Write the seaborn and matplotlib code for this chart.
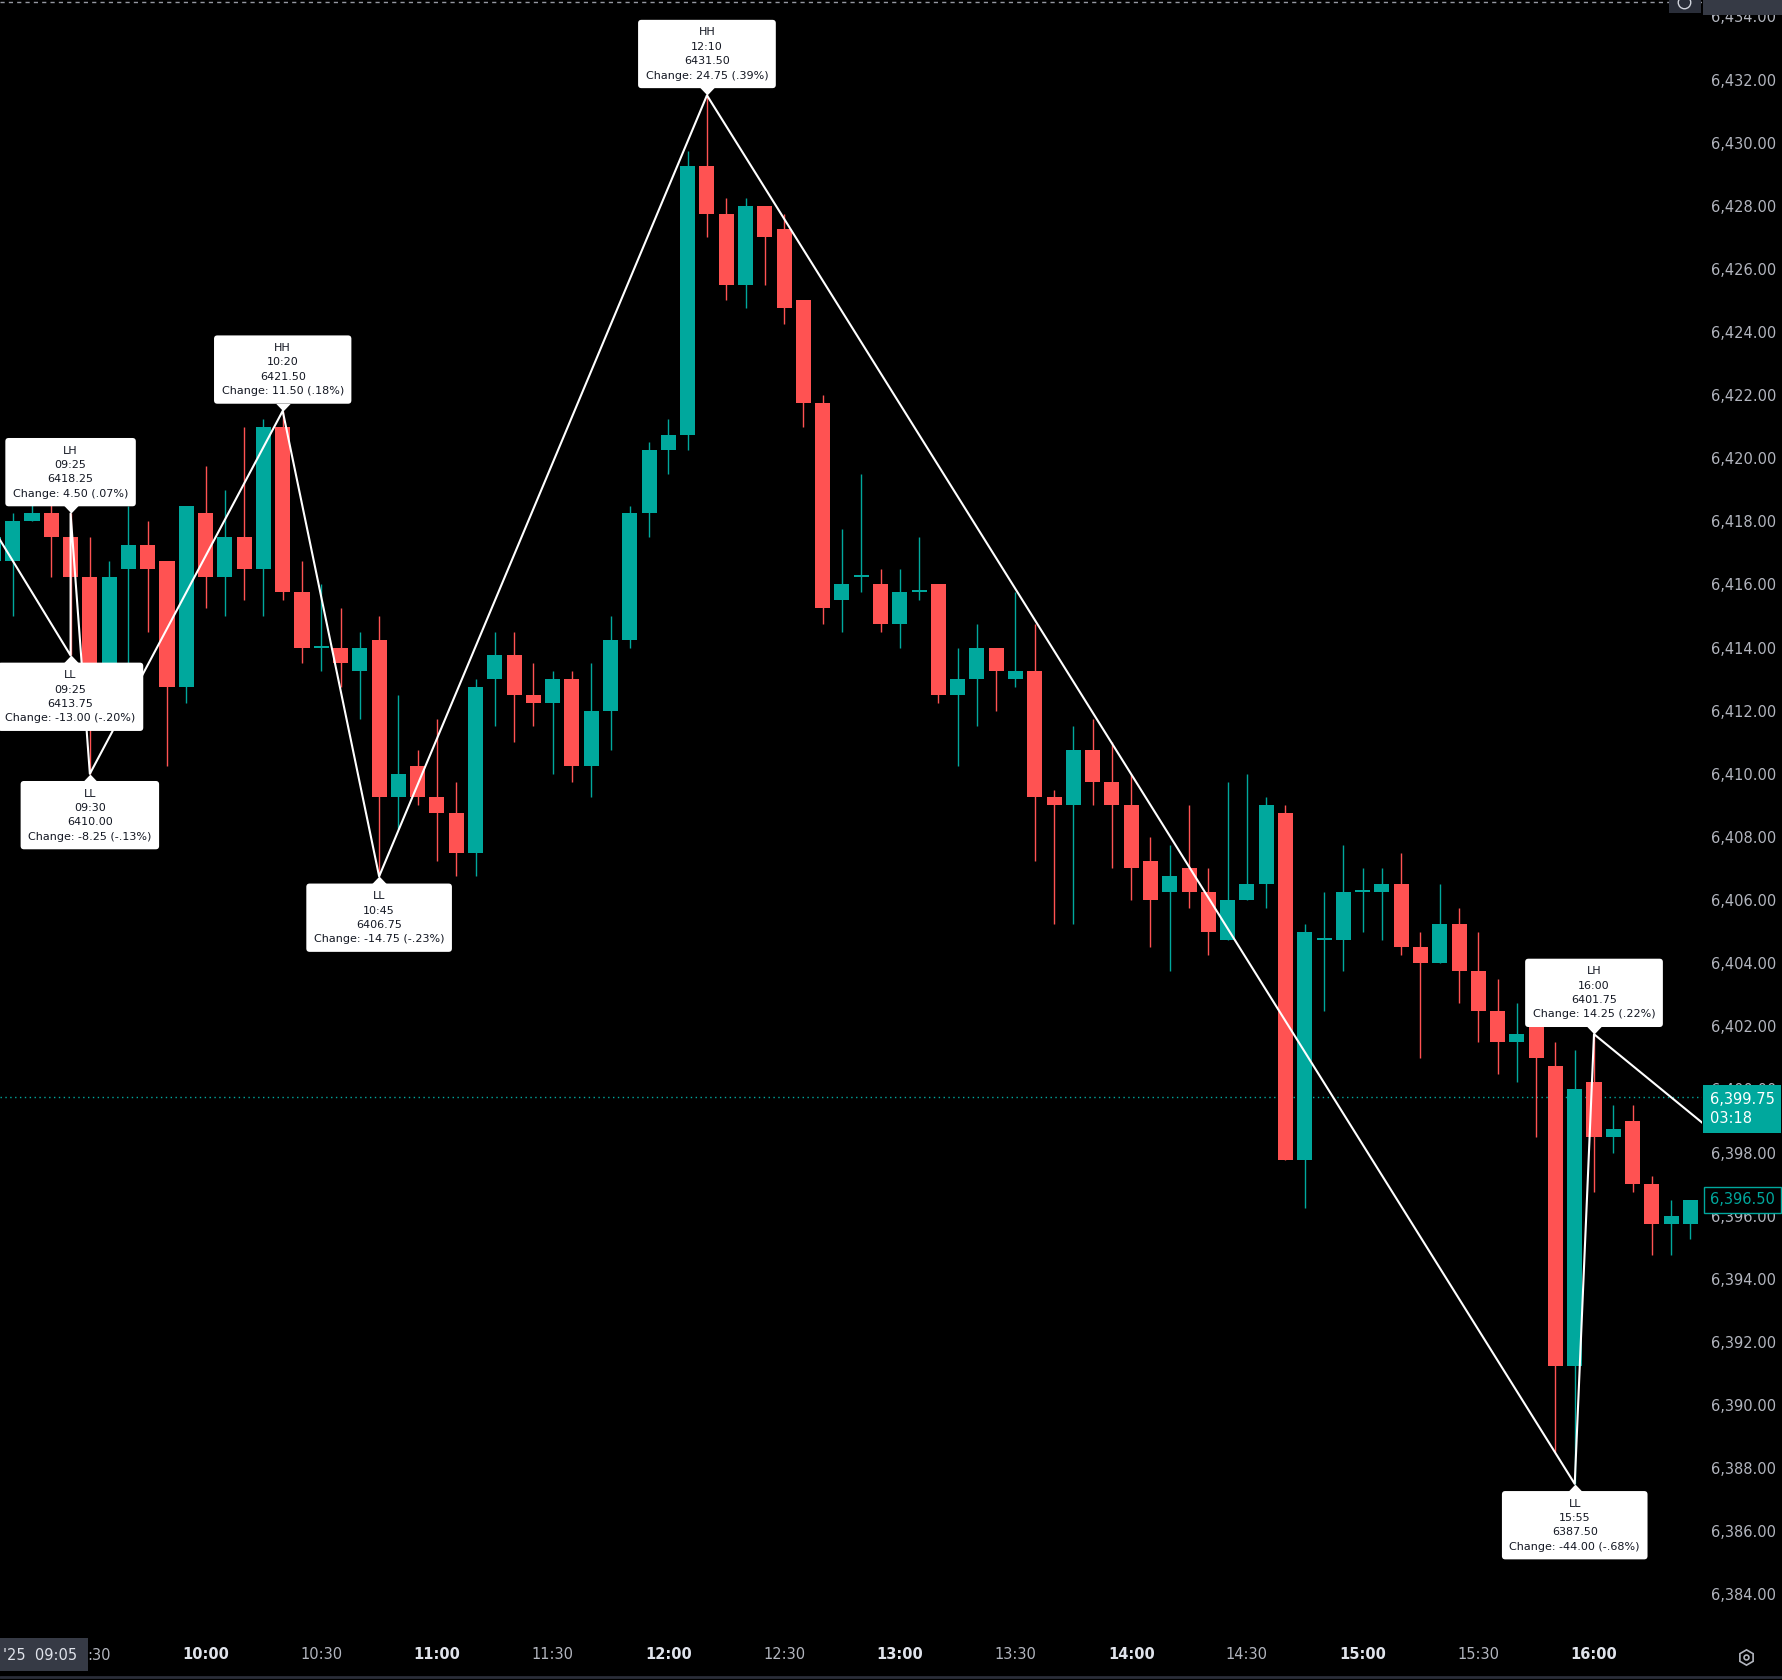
import numpy as np
import pandas as pd
import matplotlib
matplotlib.use('Agg')
from matplotlib import pyplot as plt
from matplotlib.patches import Rectangle
from matplotlib.lines import Line2D
from matplotlib import transforms
import seaborn as sns

# 5 minute bars, 09:05 - 16:25
bar_times = pd.date_range('2025-08-01 09:05', '2025-08-01 16:25', freq='5min').strftime('%H:%M').tolist()

opens = [6416.75, 6416.75, 6418.00, 6418.25, 6417.50, 6416.25, 6413.00, 6416.50, 6417.25, 6416.75,
         6412.75, 6418.25, 6416.25, 6417.50, 6416.50, 6421.00, 6415.75, 6414.00, 6414.00, 6413.25,
         6414.25, 6409.25, 6410.25, 6409.25, 6408.75, 6407.50, 6413.00, 6413.75, 6412.50, 6412.25,
         6413.00, 6410.25, 6412.00, 6414.25, 6418.25, 6420.25, 6420.75, 6429.25, 6427.75, 6425.50,
         6428.00, 6427.25, 6425.00, 6421.75, 6415.50, 6416.25, 6416.00, 6414.75, 6415.75, 6416.00,
         6412.50, 6413.00, 6414.00, 6413.00, 6413.25, 6409.25, 6409.00, 6410.75, 6409.75, 6409.00,
         6407.25, 6406.25, 6407.00, 6406.25, 6404.75, 6406.00, 6406.50, 6408.75, 6397.75, 6404.75,
         6404.75, 6406.25, 6406.25, 6406.50, 6404.50, 6404.00, 6405.25, 6403.75, 6402.50, 6401.50,
         6402.00, 6400.75, 6391.25, 6400.25, 6398.50, 6399.00, 6397.00, 6395.75, 6395.75]
highs = [6418.00, 6418.25, 6418.75, 6418.75, 6418.25, 6417.50, 6416.75, 6418.50, 6418.00, 6416.75,
         6418.50, 6419.75, 6419.00, 6421.00, 6421.25, 6421.50, 6416.75, 6416.00, 6415.25, 6414.50,
         6415.00, 6412.50, 6410.75, 6411.75, 6409.75, 6413.00, 6414.50, 6414.50, 6413.50, 6413.25,
         6413.25, 6413.50, 6415.00, 6418.50, 6420.50, 6421.25, 6429.75, 6431.50, 6428.25, 6428.25,
         6428.00, 6427.75, 6425.00, 6422.00, 6417.75, 6419.50, 6416.50, 6416.50, 6417.50, 6416.00,
         6414.00, 6414.75, 6414.00, 6415.75, 6414.75, 6409.50, 6411.50, 6411.75, 6411.00, 6410.00,
         6408.00, 6407.75, 6409.00, 6407.00, 6409.75, 6410.00, 6409.25, 6409.00, 6405.25, 6406.25,
         6407.75, 6407.00, 6407.00, 6407.50, 6405.00, 6406.50, 6405.75, 6405.00, 6403.50, 6402.75,
         6402.50, 6401.50, 6401.25, 6401.75, 6399.50, 6399.50, 6397.25, 6396.50, 6396.50]
lows = [6415.50, 6415.00, 6418.00, 6416.25, 6413.75, 6410.00, 6412.50, 6413.00, 6414.50, 6410.25,
        6412.25, 6415.25, 6415.00, 6415.50, 6415.00, 6415.50, 6413.50, 6413.25, 6412.75, 6411.75,
        6406.75, 6408.25, 6409.00, 6407.25, 6406.75, 6406.75, 6411.50, 6411.00, 6411.50, 6410.00,
        6409.75, 6409.25, 6410.75, 6414.00, 6417.50, 6419.50, 6420.25, 6427.00, 6425.00, 6424.75,
        6425.50, 6424.25, 6421.00, 6414.75, 6414.50, 6415.75, 6414.50, 6414.00, 6415.50, 6412.25,
        6410.25, 6411.50, 6412.00, 6412.75, 6407.25, 6405.25, 6405.25, 6409.00, 6407.00, 6406.00,
        6404.50, 6403.75, 6405.75, 6404.25, 6404.75, 6406.00, 6405.75, 6397.75, 6396.25, 6402.50,
        6403.75, 6405.00, 6404.75, 6404.25, 6401.00, 6404.00, 6402.75, 6401.50, 6400.50, 6400.25,
        6398.50, 6388.50, 6387.50, 6396.75, 6398.00, 6396.75, 6394.75, 6394.75, 6395.25]
closes = [6417.50, 6418.00, 6418.25, 6417.50, 6416.25, 6413.00, 6416.25, 6417.25, 6416.50, 6412.75,
          6418.50, 6416.25, 6417.50, 6416.50, 6421.00, 6415.75, 6414.00, 6414.00, 6413.50, 6414.00,
          6409.25, 6410.00, 6409.25, 6408.75, 6407.50, 6412.75, 6413.75, 6412.50, 6412.25, 6413.00,
          6410.25, 6412.00, 6414.25, 6418.25, 6420.25, 6420.75, 6429.25, 6427.75, 6425.50, 6428.00,
          6427.00, 6424.75, 6421.75, 6415.25, 6416.00, 6416.25, 6414.75, 6415.75, 6415.75, 6412.50,
          6413.00, 6414.00, 6413.25, 6413.25, 6409.25, 6409.00, 6410.75, 6409.75, 6409.00, 6407.00,
          6406.00, 6406.75, 6406.25, 6405.00, 6406.00, 6406.50, 6409.00, 6397.75, 6405.00, 6404.75,
          6406.25, 6406.25, 6406.50, 6404.50, 6404.00, 6405.25, 6403.75, 6402.50, 6401.50, 6401.75,
          6401.00, 6391.25, 6400.00, 6398.50, 6398.75, 6397.00, 6395.75, 6396.00, 6396.50]

# zigzag pivots (bar index, price, tag, change text)
piv_x = [4, 4, 5, 15, 20, 37, 82, 83]
piv_price = [6413.75, 6418.25, 6410.00, 6421.50, 6406.75, 6431.50, 6387.50, 6401.75]
piv_tag = ['LL', 'LH', 'LL', 'HH', 'LL', 'HH', 'LL', 'LH']
piv_change = ['-13.00 (-.20%)', '4.50 (.07%)', '-8.25 (-.13%)', '11.50 (.18%)',
              '-14.75 (-.23%)', '24.75 (.39%)', '-44.00 (-.68%)', '14.25 (.22%)']
# previous swing high (off screen) and the open leg at the right edge
zz_start = (-9, 6426.75)
zz_end = (89, 6398.75)

last_price = 6396.50
line_price = 6399.75
line_timer = '03:18'
cross_price = 6434.50
cross_time = "'25  09:05"

UP = '#00a89d'
DOWN = '#ff5252'
W, H = 1782, 1680

sns.set_theme(style='dark', rc={'axes.facecolor': 'black', 'figure.facecolor': 'black',
                                'axes.grid': False, 'savefig.facecolor': 'black'})
plt.rcParams['font.family'] = ['DejaVu Sans']

fig = plt.figure(figsize=(W / 100, H / 100), dpi=100)
ax = fig.add_axes([0, 1 - 1636 / H, 1702 / W, 1636 / H])
for s in ax.spines.values():
    s.set_visible(False)

df = pd.DataFrame({'time': bar_times, 'open': opens, 'high': highs, 'low': lows, 'close': closes})
df['x'] = np.arange(len(df))
df['color'] = np.where(df['close'] >= df['open'], UP, DOWN)
body_lo = df[['open', 'close']].min(axis=1)
body_h = (df['close'] - df['open']).abs().clip(lower=0.06)

ax.vlines(df['x'], df['low'], df['high'], colors=df['color'], lw=1.0, zorder=2)
ax.bar(df['x'], body_h, bottom=body_lo, width=0.78, color=df['color'], lw=0, zorder=3)

# zigzag line
zz = pd.DataFrame({'x': [zz_start[0]] + piv_x + [zz_end[0]],
                   'price': [zz_start[1]] + piv_price + [zz_end[1]]})
sns.lineplot(data=zz, x='x', y='price', sort=False, estimator=None, color='white',
             lw=1.5, ax=ax, zorder=4, legend=False)

# teal dotted price line
ax.axhline(line_price, color=UP, ls=(0, (1, 2.5)), lw=1.0, zorder=1)
# crosshair line at top
ax.axhline(cross_price - 0.04, color='#9598a1', ls=(0, (3, 3)), lw=1.0, zorder=1)

# pivot labels
tri_hi = [(-1, 1.05), (1, 1.05), (0, 0), (-1, 1.05)]
tri_lo = [(-1, -1.05), (1, -1.05), (0, 0), (-1, -1.05)]
for x, p, tag, ch in zip(piv_x, piv_price, piv_tag, piv_change):
    high = tag in ('HH', 'LH')
    txt = f'{tag}\n{bar_times[x]}\n{p:.2f}\nChange: {ch}'
    ax.plot([x], [p], marker=tri_hi if high else tri_lo, ms=10.8, mfc='white', mec='white',
            mew=0, zorder=6, clip_on=False)
    ax.annotate(txt, (x, p), xytext=(0, 10.6 if high else -10.6), textcoords='offset points',
                ha='center', va='bottom' if high else 'top', fontsize=8, color='#131722',
                linespacing=1.55, zorder=7, annotation_clip=False,
                bbox=dict(boxstyle='round,pad=0.68,rounding_size=0.3', fc='white', ec='none'))

ax.set_xlim(0.34, 88.6)
ax.set_ylim(6382.68, 6434.52)

# price axis on the right
yt = np.arange(6384, 6435, 2)
ax.yaxis.tick_right()
ax.set_yticks(yt)
ax.set_yticklabels([f'{v:,.2f}' for v in yt])
ax.tick_params(axis='y', length=0, pad=6.8, labelsize=10.5, labelcolor='#b2b5be')

# time axis (09:30 sits under the crosshair date box, only ":30" shows)
tick_x = list(range(11, len(bar_times), 6))
ax.set_xticks(tick_x)
ax.set_xticklabels([bar_times[i] for i in tick_x])
ax.tick_params(axis='x', length=0, pad=7.9, labelsize=10.5)
for lbl in ax.get_xticklabels():
    if lbl.get_text().endswith(':00'):
        lbl.set_color('#e0e3eb')
        lbl.set_fontweight('bold')
    else:
        lbl.set_color('#b2b5be')
ax.set_xlabel('')
ax.set_ylabel('')
first_tick = bar_times[5]
fig.text(111 / W, 1 - 1655 / H, first_tick[2:], ha='right', va='center', fontsize=10.5,
         color='#b2b5be')

# price labels on the scale
yfig = transforms.blended_transform_factory(fig.transFigure, ax.transData)
fig.text(1710 / W, line_price - 0.37, f'{line_price:,.2f}\n{line_timer}', transform=yfig,
         ha='left', va='center', fontsize=10.5, color='white', linespacing=1.35,
         bbox=dict(boxstyle='square,pad=0.45', fc=UP, ec='none'))
fig.text(1710 / W, last_price, f'{last_price:,.2f}', transform=yfig, ha='left', va='center',
         fontsize=10.5, color=UP, bbox=dict(boxstyle='square,pad=0.4', fc='black', ec=UP, lw=1))

# crosshair labels
fig.patches.append(Rectangle((0, 1 - 1671 / H), 87.5 / W, 33 / H, transform=fig.transFigure,
                             fc='#363a45', ec='none', zorder=5))
fig.text(77 / W, 1 - 1655 / H, cross_time, ha='right', va='center', fontsize=10.5,
         color='#e0e3eb', zorder=6)
fig.patches.append(Rectangle((1703 / W, 1 - 15 / H), 79 / W, 15 / H, transform=fig.transFigure,
                             fc='#363a45', ec='none', zorder=5))
fig.patches.append(Rectangle((1669 / W, 1 - 13 / H), 32 / W, 13 / H, transform=fig.transFigure,
                             fc='#2a2e39', ec='none', zorder=5))
fig.add_artist(Line2D([1684 / W], [1 - 2 / H], marker='o', ms=9, mfc='none', mec='#d1d4dc',
                      mew=1, transform=fig.transFigure, zorder=6))

# bottom border and settings icon
fig.add_artist(Line2D([0, 1], [1 - 1677 / H, 1 - 1677 / H], color='#2a2e39', lw=2,
                      transform=fig.transFigure))
fig.add_artist(Line2D([1746 / W], [1 - 1657 / H], marker='h', ms=11, mfc='none',
                      mec='#b2b5be', mew=1.2, transform=fig.transFigure))
fig.add_artist(Line2D([1746 / W], [1 - 1657 / H], marker='o', ms=3.5, mfc='none',
                      mec='#b2b5be', mew=1.2, transform=fig.transFigure))

fig.savefig('out.png', dpi=100, facecolor='black')
